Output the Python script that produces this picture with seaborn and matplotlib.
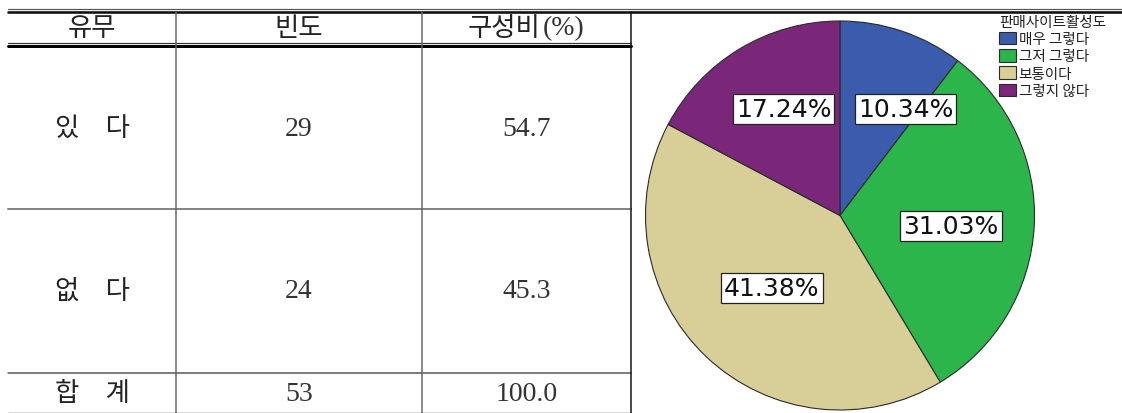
import matplotlib
matplotlib.use("Agg")
import matplotlib.pyplot as plt
import numpy as np
import seaborn as sns

# ---- table data ----
headers = ["유무", "빈도", "구성비(%)"]
row_labels = ["있\u3000다", "없\u3000다", "합\u3000계"]
counts = ["29", "24", "53"]
shares = ["54.7", "45.3", "100.0"]

# ---- pie data ----
legend_title = "판매사이트활성도"
categories = ["매우 그렇다", "그저 그렇다", "보통이다", "그렇지 않다"]
freq = [3, 9, 12, 5]
pct_labels = ["10.34%", "31.03%", "41.38%", "17.24%"]
colors = ["#3b5cad", "#2bb54b", "#d8cf98", "#7b2779"]

sns.set_theme(style="white")
plt.rcParams["font.family"] = ["Noto Sans CJK KR", "DejaVu Sans"]

W, H = 1122, 414
fig = plt.figure(figsize=(W / 100, H / 100), dpi=100)

# full-figure canvas in pixel units for the table rules and text
bg = fig.add_axes([0, 0, 1, 1])
bg.set_xlim(0, W)
bg.set_ylim(H, 0)
bg.axis("off")

px = 0.72  # points per pixel at 100 dpi

# top double rule
bg.plot([8, W], [10, 10], color="#555555", lw=1.2 * px)
bg.plot([8, W], [13, 13], color="#111111", lw=2.6 * px)
# header double rule
bg.plot([8, 631], [43.5, 43.5], color="#333333", lw=1.2 * px)
bg.plot([8, 631], [47, 47], color="#000000", lw=3 * px)
# row rules
bg.plot([8, 631], [210, 210], color="#858585", lw=2 * px)
bg.plot([8, 631], [374, 374], color="#555555", lw=1.5 * px)
bg.plot([8, 631], [413, 413], color="#dddddd", lw=1 * px)
# column rules
for xv, c in [(176, "#666666"), (422, "#666666"), (631, "#111111")]:
    bg.plot([xv, xv], [13, H], color=c, lw=1.5 * px)

col_x = [92, 299, 526.5]
row_y = [129, 291, 394]
header_y = 28

kfont = dict(family=["Noto Sans CJK KR", "DejaVu Sans"], fontsize=19,
             color="#222222", ha="center", va="center")
nfont = dict(family=["Liberation Serif", "DejaVu Serif"], fontsize=20,
             color="#333333", ha="center", va="center")

bg.text(col_x[0], header_y, headers[0], **kfont)
bg.text(col_x[1], header_y, headers[1], **kfont)
bg.text(col_x[2] - 22, header_y, headers[2][:3], **kfont)
bg.text(col_x[2] + 37, header_y + 1, headers[2][3:], **nfont)

for i, y in enumerate(row_y):
    bg.text(col_x[0], y, row_labels[i], **kfont)
    bg.text(col_x[1], y + 1, counts[i], **nfont)
    bg.text(col_x[2], y + 1, shares[i], **nfont)

# ---- pie ----
cx, cy, r = 840, 216.5, 194.5
ax = fig.add_axes([(cx - r) / W, (H - cy - r) / H, 2 * r / W, 2 * r / H])
wedges, _ = ax.pie(freq, colors=colors, startangle=90, counterclock=False,
                   radius=1.0,
                   wedgeprops=dict(edgecolor="#2a2a2a", linewidth=0.8))
ax.set_xlim(-1, 1)
ax.set_ylim(-1, 1)
ax.set_aspect("auto")
ax.axis("off")

# label placement: 0.6 of the radius along each wedge's mid-angle, nudged
nudges = [(0.146, -0.021), (-0.028, -0.020), (0.062, 0.063), (0.019, 0.034)]
for w, lab, (dx, dy) in zip(wedges, pct_labels, nudges):
    mid = np.deg2rad((w.theta1 + w.theta2) / 2)
    x = 0.6 * np.cos(mid) + dx
    y = 0.6 * np.sin(mid) + dy
    ax.text(x, y, lab, ha="center", va="center", fontsize=18,
            family=["DejaVu Sans"], color="#111111",
            bbox=dict(boxstyle="square,pad=0.12", facecolor="white",
                      edgecolor="#222222", linewidth=0.9))

leg = fig.legend(wedges, categories, title=legend_title,
                 loc="upper left", bbox_to_anchor=(999 / W, 1 - 16 / H),
                 frameon=False, fontsize=10.5, title_fontsize=10.5,
                 handlelength=1.15, handleheight=0.95, handletextpad=0.2,
                 labelspacing=0.2, borderpad=0.0, borderaxespad=0.0,
                 alignment="left")
for t in leg.get_texts():
    t.set_color("#222222")
leg.get_title().set_color("#222222")

fig.savefig("out.png", dpi=100)
